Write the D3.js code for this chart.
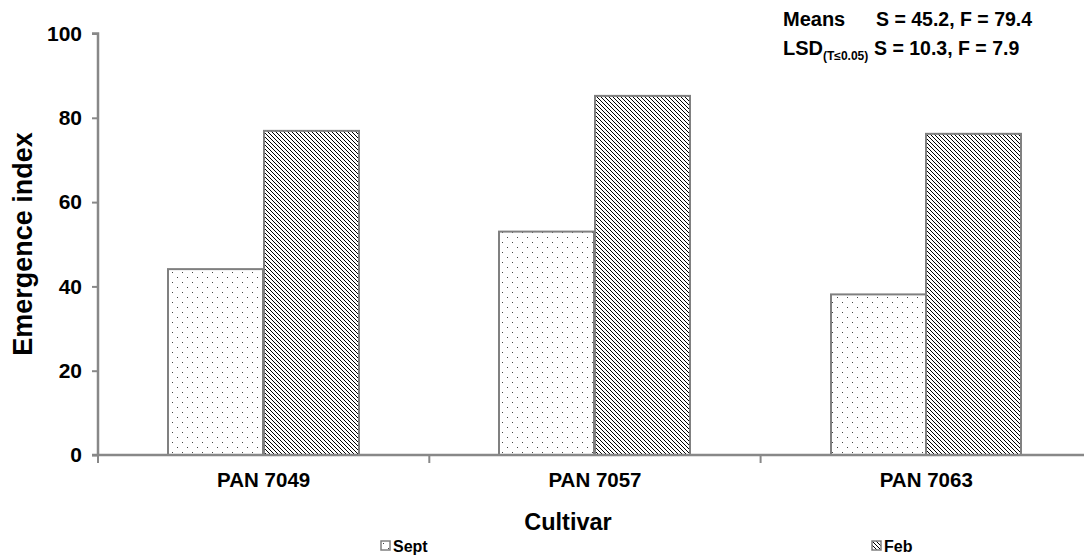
<!DOCTYPE html>
<html><head><meta charset="utf-8">
<script src="https://cdn.jsdelivr.net/npm/d3@7/dist/d3.min.js"></script>
<style>
body{margin:0;background:#fff;}
text{font-family:"Liberation Sans",Arial,sans-serif;font-weight:bold;fill:#000;}
</style></head>
<body>
<svg id="c" width="1084" height="558"></svg>
<script>
const categories = ["PAN 7049", "PAN 7057", "PAN 7063"];
const seriesNames = ["Sept", "Feb"];
const septValues = [44.1, 53.0, 38.1];
const febValues = [76.9, 85.2, 76.2];
const yTicks = [0, 20, 40, 60, 80, 100];
const xTitle = "Cultivar";
const yTitle = "Emergence index";
const meansLine = ["Means", "S = 45.2, F = 79.4"];
const lsdLine = ["LSD", "(T≤0.05)", "S = 10.3, F = 7.9"];

(function(){
const svg = d3.select("#c");
const pLeft = 98, pTop = 33.5, pBottom = 455, step = 331.3;
const defs = svg.append("defs");
const dots = defs.append("pattern").attr("id","dots").attr("patternUnits","userSpaceOnUse")
  .attr("width",10).attr("height",10);
dots.append("rect").attr("width",10).attr("height",10).attr("fill","#fff");
dots.append("rect").attr("x",2).attr("y",2).attr("width",1).attr("height",1).attr("fill","#444");
dots.append("rect").attr("x",7).attr("y",7).attr("width",1).attr("height",1).attr("fill","#444");
const hatch = defs.append("pattern").attr("id","hatch").attr("patternUnits","userSpaceOnUse")
  .attr("width",4).attr("height",4);
hatch.append("rect").attr("width",4).attr("height",4).attr("fill","#fff");
[0,1,2,3].forEach(k=>{
  hatch.append("rect").attr("x",k).attr("y",k).attr("width",1).attr("height",1).attr("fill","#000");
});

const x0 = d3.scaleBand().domain(categories).range([pLeft, pLeft + step*categories.length]).padding(0);
const x1 = d3.scaleBand().domain(seriesNames).range([0, x0.bandwidth()]).paddingInner(0).paddingOuter(0.735);
const y = d3.scaleLinear().domain([0,100]).range([pBottom, pTop]);
const fills = {Sept:"url(#dots)", Feb:"url(#hatch)"};
const data = categories.map((c,i)=>({c, vals:[{s:"Sept",v:septValues[i]},{s:"Feb",v:febValues[i]}]}));

const g = svg.selectAll("g.cat").data(data).enter().append("g");
g.selectAll("rect").data(d=>d.vals.map(v=>Object.assign({c:d.c}, v))).enter().append("rect")
  .attr("x", d=>Math.round(x0(d.c) + x1(d.s))).attr("width", Math.round(x1.bandwidth()))
  .attr("y", d=>y(d.v)).attr("height", d=>pBottom - y(d.v))
  .attr("fill", d=>fills[d.s]).attr("stroke","#808080").attr("stroke-width",2);

// y axis
const ya = svg.append("g").attr("transform",`translate(${pLeft},0)`)
  .call(d3.axisLeft(y).tickValues(yTicks).tickSize(6).tickPadding(10).tickFormat(d3.format("d")));
ya.select(".domain").attr("stroke","#888").attr("stroke-width",2.5).attr("d",`M-6,${pTop}H0V${pBottom}`);
ya.selectAll(".tick line").attr("stroke","#888").attr("stroke-width",2);
ya.selectAll(".tick text").style("font-size","21px").style("font-family","Liberation Sans, Arial").style("font-weight","bold").attr("fill","#000");

// x axis
const xa = svg.append("g").attr("transform",`translate(0,${pBottom})`)
  .call(d3.axisBottom(x0).tickSize(0).tickPadding(17));
xa.select(".domain").attr("stroke","#888").attr("stroke-width",2.5).attr("d",`M${pLeft-6},0H1084`);
xa.selectAll(".tick text").style("font-size","20.5px").style("font-family","Liberation Sans, Arial").style("font-weight","bold").attr("fill","#000");
const xBounds = categories.map(c=>x0(c)).concat([x0(categories[categories.length-1])+step]);
xa.selectAll("line.sep").data(xBounds).enter().append("line").attr("class","sep")
  .attr("x1",d=>d).attr("x2",d=>d).attr("y1",0).attr("y2",8).attr("stroke","#888").attr("stroke-width",2);

// titles
svg.append("text").attr("x",568).attr("y",530).attr("text-anchor","middle").style("font-size","23.5px").text(xTitle);
svg.append("text").attr("transform","translate(32,244) rotate(-90)").attr("text-anchor","middle").style("font-size","27px").text(yTitle);

// annotation
svg.append("text").attr("x",783).attr("y",26).style("font-size","20px").text(meansLine[0]);
svg.append("text").attr("x",876).attr("y",26).style("font-size","19.5px").text(meansLine[1]);
const t2 = svg.append("text").attr("x",783).attr("y",55).style("font-size","20px");
t2.append("tspan").text(lsdLine[0]);
t2.append("tspan").attr("dy",5).style("font-size","12px").text(lsdLine[1]);
svg.append("text").attr("x",874).attr("y",55).style("font-size","19.5px").text(lsdLine[2]);

// legend
const legX = [381, 872];
const lg = svg.selectAll("g.leg").data(seriesNames).enter().append("g").attr("transform",(d,i)=>`translate(${legX[i]},541)`);
lg.append("rect").attr("width",9).attr("height",9).attr("fill",d=>fills[d]).attr("stroke","#808080").attr("stroke-width",1.5);
lg.append("text").attr("x",12).attr("y",11).style("font-size","16px").text(d=>d);
})();
</script>
</body></html>
